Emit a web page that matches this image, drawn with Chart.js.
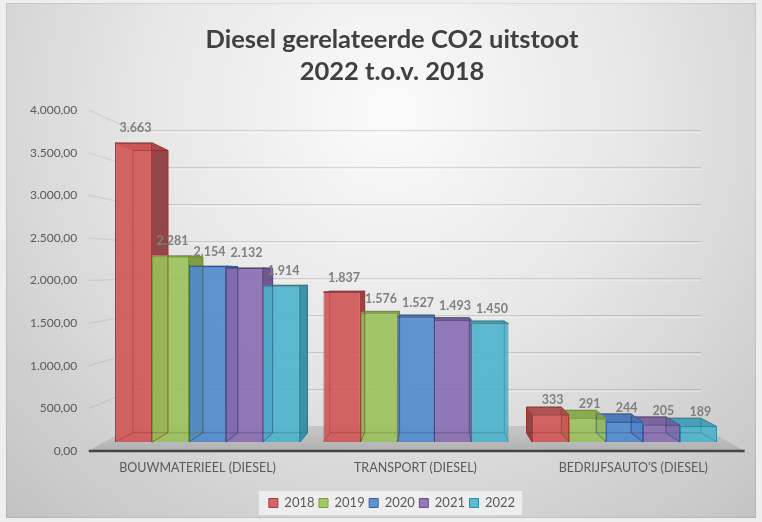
<!DOCTYPE html>
<html>
<head>
<meta charset="utf-8">
<script src="https://cdn.jsdelivr.net/npm/chart.js@4.4.0/dist/chart.umd.min.js"></script>
<style>
html,body{margin:0;padding:0;background:#eeeeee;}
canvas{display:block;}
</style>
</head>
<body>
<canvas id="c" width="762" height="522"></canvas>
<script>
// ---------- DATA ----------
const categories = ['BOUWMATERIEEL (DIESEL)', 'TRANSPORT (DIESEL)', "BEDRIJFSAUTO'S (DIESEL)"];
const seriesNames = ['2018', '2019', '2020', '2021', '2022'];
const values2018 = [3663, 1837, 333];
const values2019 = [2281, 1576, 291];
const values2020 = [2154, 1527, 244];
const values2021 = [2132, 1493, 205];
const values2022 = [1914, 1450, 189];
const yAxisMin = 0;
const yAxisMax = 4000;
const yAxisStep = 500;
const titleLines = ['Diesel gerelateerde CO2 uitstoot', '2022 t.o.v. 2018'];

// ---------- STYLE ----------
const frontColors = ['rgba(208,85,85,0.9)', 'rgba(155,193,91,0.9)', 'rgba(80,138,204,0.9)', 'rgba(135,108,176,0.9)', 'rgba(76,179,204,0.9)'];
const sideColors  = ['rgba(140,58,60,0.93)', 'rgba(118,150,62,0.93)', 'rgba(58,100,160,0.93)', 'rgba(100,78,135,0.93)', 'rgba(50,138,160,0.93)'];
const topColors   = ['rgba(172,72,72,0.93)', 'rgba(132,166,72,0.93)', 'rgba(68,116,182,0.93)', 'rgba(116,92,152,0.93)', 'rgba(60,155,182,0.93)'];
const edgeColors  = ['rgb(165,58,58)', 'rgb(122,156,58)', 'rgb(52,98,162)', 'rgb(98,78,138)', 'rgb(44,138,163)'];
const hiddenEdge  = ['rgba(120,35,35,0.35)', 'rgba(80,110,30,0.35)', 'rgba(25,60,120,0.35)', 'rgba(65,45,100,0.35)', 'rgba(20,100,125,0.35)'];

// perspective (vanishing point and depth factors relative to the bar plane)
const VP = {x: 434, y: 278};
const K_FRONT = 1.0438, K_BACK = 0.9436, K_WALL = 0.906;
function proj(x, y, k) { return [VP.x + k * (x - VP.x), VP.y + k * (y - VP.y)]; }

function fmtThousands(v) { return Math.round(v).toString().replace(/\B(?=(\d{3})+(?!\d))/g, '.'); }
function fmtAxis(v) { return fmtThousands(v) + ',00'; }

const seriesValues = [values2018, values2019, values2020, values2021, values2022];

function poly(ctx, pts) {
  ctx.beginPath();
  ctx.moveTo(pts[0][0], pts[0][1]);
  for (let i = 1; i < pts.length; i++) ctx.lineTo(pts[i][0], pts[i][1]);
  ctx.closePath();
}

const scene3d = {
  id: 'scene3d',
  beforeDraw(chart) {
    const {ctx, width, height} = chart;
    ctx.save();
    ctx.fillStyle = '#eeeeee';
    ctx.fillRect(0, 0, width, height);
    const g = ctx.createRadialGradient(392, 110, 0, 392, 110, 560);
    g.addColorStop(0, '#fbfbfb');
    g.addColorStop(0.45, '#e6e6e6');
    g.addColorStop(1, '#c2c2c2');
    ctx.fillStyle = g;
    ctx.fillRect(6, 3, 750, 515);
    ctx.strokeStyle = 'rgba(0,0,0,0.08)';
    ctx.lineWidth = 1;
    ctx.strokeRect(6.5, 3.5, 749, 514);
    // legend background box
    const lg = chart.legend;
    if (lg && lg.lineWidths) {
      const pad = lg.options.labels.padding;
      const rowW = lg.lineWidths[0];
      const rowLeft = (lg.left + pad + lg.right - rowW) / 2;
      const rowRight = rowLeft + rowW - pad;
      const cy = lg.top + pad + 6.5;
      ctx.fillStyle = 'rgba(245,245,245,0.75)';
      ctx.fillRect(rowLeft - 10, cy - 12, rowRight - rowLeft + 17, 24);
    }
    ctx.restore();
  },
  beforeDatasetsDraw(chart) {
    const {ctx, chartArea: ca, scales} = chart;
    const yb = scales.y, yl = scales.yl;
    ctx.save();
    const wl = proj(ca.left, 0, K_WALL)[0], wr = proj(ca.right, 0, K_WALL)[0];
    const fl = proj(ca.left, 0, K_FRONT)[0], fr = proj(ca.right, 0, K_FRONT)[0];
    // walls with gridlines
    yl.ticks.forEach(t => {
      const v = t.value;
      const by = VP.y + K_WALL * (yb.getPixelForValue(v) - VP.y);
      const fy = yl.getPixelForValue(v);
      ctx.lineWidth = 1.5;
      ctx.strokeStyle = 'rgba(0,0,0,0.07)';
      ctx.beginPath(); ctx.moveTo(fl, fy); ctx.lineTo(wl, by); ctx.stroke();
      ctx.lineWidth = 1.2;
      ctx.strokeStyle = 'rgba(0,0,0,0.13)';
      ctx.beginPath(); ctx.moveTo(wl, by); ctx.lineTo(wr, by); ctx.stroke();
      ctx.strokeStyle = 'rgba(255,255,255,0.5)';
      ctx.lineWidth = 1;
      ctx.beginPath(); ctx.moveTo(wl, by + 1.5); ctx.lineTo(wr, by + 1.5); ctx.stroke();
    });
    // floor
    const y0b = VP.y + K_WALL * (yb.getPixelForValue(0) - VP.y);
    const y0f = yl.getPixelForValue(0);
    const fg = ctx.createLinearGradient(0, y0b, 0, y0f);
    fg.addColorStop(0, '#c6c6c6');
    fg.addColorStop(1, '#b2b2b2');
    ctx.fillStyle = fg;
    poly(ctx, [[fl, y0f], [fr + 3, y0f], [wr, y0b], [wl, y0b]]);
    ctx.fill();
    ctx.strokeStyle = '#454545';
    ctx.lineWidth = 2.5;
    ctx.beginPath(); ctx.moveTo(fl, y0f); ctx.lineTo(fr + 3, y0f); ctx.stroke();

    // 3D bar parts (side + top faces)
    const items = [];
    chart.getSortedVisibleDatasetMetas().forEach(meta => {
      meta.data.forEach(bar => items.push({bar, i: meta.index}));
    });
    items.sort((a, b) => Math.abs(b.bar.x - VP.x) - Math.abs(a.bar.x - VP.x));
    items.forEach(({bar, i}) => {
      const p = bar.getProps(['x', 'y', 'base', 'width'], true);
      const L = p.x - p.width / 2, R = p.x + p.width / 2, T = p.y, B = p.base;
      ctx.lineWidth = 1;
      ctx.strokeStyle = edgeColors[i];
      let side = null;
      if (R < VP.x) side = [[R, T], proj(R, T, K_BACK), proj(R, B, K_BACK), [R, B]];
      else if (L > VP.x) side = [[L, T], proj(L, T, K_BACK), proj(L, B, K_BACK), [L, B]];
      if (side) {
        ctx.fillStyle = sideColors[i];
        poly(ctx, side); ctx.fill(); ctx.stroke();
      }
      ctx.fillStyle = topColors[i];
      poly(ctx, [[L, T], [R, T], proj(R, T, K_BACK), proj(L, T, K_BACK)]);
      ctx.fill(); ctx.stroke();
    });
    ctx.restore();
  },
  afterDatasetsDraw(chart) {
    const {ctx} = chart;
    ctx.save();
    chart.getSortedVisibleDatasetMetas().forEach(meta => {
      const i = meta.index;
      meta.data.forEach(bar => {
        const p = bar.getProps(['x', 'y', 'base', 'width'], true);
        const L = p.x - p.width / 2, R = p.x + p.width / 2, T = p.y, B = p.base;
        const bTL = proj(L, T, K_BACK), bTR = proj(R, T, K_BACK), bBL = proj(L, B, K_BACK), bBR = proj(R, B, K_BACK);
        ctx.strokeStyle = hiddenEdge[i];
        ctx.lineWidth = 1;
        poly(ctx, [bTL, bTR, bBR, bBL]); ctx.stroke();
        ctx.beginPath(); ctx.moveTo(L, B); ctx.lineTo(bBL[0], bBL[1]); ctx.moveTo(R, B); ctx.lineTo(bBR[0], bBR[1]); ctx.stroke();
      });
    });
    ctx.font = 'bold 12.5px Lato, "Open Sans", sans-serif';
    ctx.fillStyle = '#808080';
    ctx.textAlign = 'center';
    ctx.textBaseline = 'middle';
    chart.getSortedVisibleDatasetMetas().forEach(meta => {
      const ds = chart.data.datasets[meta.index];
      meta.data.forEach((bar, j) => {
        const p = bar.getProps(['x', 'y'], true);
        ctx.fillText(fmtThousands(ds.data[j]), p.x + 2, p.y - 14.5);
      });
    });
    ctx.restore();
  }
};

Chart.defaults.font.family = 'Lato, "Open Sans", sans-serif';

const chart = new Chart(document.getElementById('c').getContext('2d'), {
  type: 'bar',
  data: {
    labels: categories,
    datasets: seriesNames.map((name, i) => ({
      label: name,
      data: seriesValues[i],
      backgroundColor: frontColors[i],
      borderColor: edgeColors[i],
      borderWidth: 1,
      xAxisID: 'x',
      yAxisID: 'y',
      categoryPercentage: 0.887,
      barPercentage: 1.0
    }))
  },
  options: {
    responsive: false,
    animation: false,
    devicePixelRatio: 1,
    layout: {padding: {left: 22, right: 0, top: 0, bottom: 2.5}},
    plugins: {
      title: {
        display: true,
        text: titleLines,
        color: '#404040',
        font: {size: 25.5, weight: 'bold', lineHeight: 32 / 25.5},
        padding: {top: 24, bottom: 22}
      },
      legend: {
        position: 'bottom',
        labels: {boxWidth: 9, boxHeight: 9, padding: 4.5, color: '#595959', font: {size: 13}}
      },
      tooltip: {enabled: false}
    },
    scales: {
      x: {type: 'category', display: false, offset: true},
      y: {type: 'linear', display: false, min: -110.2, max: 4066},
      xl: {
        type: 'linear', position: 'bottom', min: -0.433, max: 2.438, bounds: 'data', offset: false,
        grid: {display: false, drawTicks: false, offset: false}, border: {display: false},
        ticks: {padding: 9, color: '#595959', font: {size: 12.5},
                maxRotation: 0, autoSkip: false,
                callback: v => (Number.isInteger(v) && categories[v] !== undefined) ? categories[v] : ''},
        afterBuildTicks: s => { s.ticks = categories.map((c, i) => ({value: i})); },
        afterFit: s => { s.height = 41; }
      },
      yl: {
        type: 'linear', position: 'left', min: yAxisMin, max: yAxisMax,
        grid: {display: false, drawTicks: false}, border: {display: false},
        ticks: {stepSize: yAxisStep, padding: 26, color: '#595959', font: {size: 12}, callback: v => fmtAxis(v)},
        afterFit: s => { s.width = 81.25; }
      },
      yr: {
        type: 'linear', position: 'right',
        grid: {display: false, drawTicks: false}, border: {display: false},
        ticks: {display: false},
        afterFit: s => { s.width = 33.25; }
      }
    }
  },
  plugins: [scene3d]
});
</script>
</body>
</html>
